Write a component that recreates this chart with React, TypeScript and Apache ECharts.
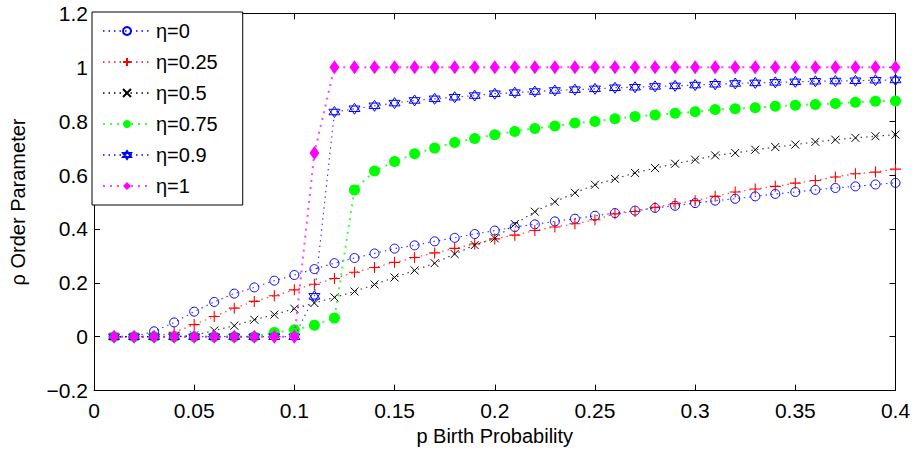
import React, { useEffect, useRef } from "react";
import * as echarts from "echarts";

const pValues = [
  0.01, 0.02, 0.03, 0.04, 0.05, 0.06, 0.07, 0.08, 0.09, 0.1,
  0.11, 0.12, 0.13, 0.14, 0.15, 0.16, 0.17, 0.18, 0.19, 0.2,
  0.21, 0.22, 0.23, 0.24, 0.25, 0.26, 0.27, 0.28, 0.29, 0.3,
  0.31, 0.32, 0.33, 0.34, 0.35, 0.36, 0.37, 0.38, 0.39, 0.4,
];

const eta0 = [
  0, 0, 0.02, 0.053, 0.093, 0.129, 0.16, 0.183, 0.208, 0.229,
  0.251, 0.273, 0.292, 0.309, 0.327, 0.339, 0.354, 0.367, 0.381, 0.394,
  0.407, 0.417, 0.428, 0.438, 0.449, 0.459, 0.468, 0.478, 0.486, 0.496,
  0.505, 0.512, 0.521, 0.53, 0.537, 0.545, 0.552, 0.558, 0.565, 0.571,
];

const eta025 = [
  0, 0, 0, 0.016, 0.045, 0.075, 0.106, 0.131, 0.152, 0.174,
  0.195, 0.216, 0.239, 0.257, 0.276, 0.294, 0.311, 0.328, 0.344, 0.363,
  0.377, 0.394, 0.407, 0.419, 0.434, 0.456, 0.465, 0.48, 0.494, 0.505,
  0.521, 0.537, 0.548, 0.558, 0.57, 0.58, 0.593, 0.605, 0.611, 0.622,
];

const eta05 = [
  0, 0, 0, 0, 0.005, 0.023, 0.041, 0.063, 0.082, 0.104,
  0.125, 0.146, 0.168, 0.194, 0.22, 0.246, 0.273, 0.307, 0.34, 0.365,
  0.418, 0.464, 0.501, 0.534, 0.564, 0.586, 0.608, 0.626, 0.642, 0.657,
  0.673, 0.682, 0.694, 0.704, 0.713, 0.723, 0.731, 0.738, 0.744, 0.75,
];

const eta075 = [
  0, 0, 0, 0, 0, 0, 0, 0, 0.016, 0.026,
  0.043, 0.069, 0.545, 0.615, 0.65, 0.679, 0.7, 0.721, 0.736, 0.75,
  0.762, 0.773, 0.782, 0.793, 0.799, 0.809, 0.817, 0.823, 0.829, 0.835,
  0.843, 0.846, 0.85, 0.855, 0.859, 0.862, 0.866, 0.87, 0.874, 0.875,
];

const eta09 = [
  0, 0, 0, 0, 0, 0, 0, 0, 0, 0,
  0.15, 0.834, 0.846, 0.857, 0.867, 0.877, 0.883, 0.889, 0.895, 0.902,
  0.906, 0.91, 0.914, 0.917, 0.92, 0.924, 0.926, 0.929, 0.931, 0.934,
  0.937, 0.94, 0.942, 0.944, 0.946, 0.948, 0.949, 0.95, 0.952, 0.953,
];

const eta1 = [
  0, 0, 0, 0, 0, 0, 0, 0, 0, 0,
  0.682, 1, 1, 1, 1, 1, 1, 1, 1, 1,
  1, 1, 1, 1, 1, 1, 1, 1, 1, 1,
  1, 1, 1, 1, 1, 1, 1, 1, 1, 1,
];

const seriesNames = ["η=0", "η=0.25", "η=0.5", "η=0.75", "η=0.9", "η=1"];
const seriesValues = [eta0, eta025, eta05, eta075, eta09, eta1];

const FONT = "'Liberation Sans', Arial, Helvetica, sans-serif";

const PLUS = "path://M0,5 L10,5 M5,0 L5,10";
const CROSS = "path://M0,0 L10,10 M10,0 L0,10";
const HEXAGRAM =
  "path://M5,0 L9.33,7.5 L0.67,7.5 Z M5,10 L9.33,2.5 L0.67,2.5 Z";

const styles = [
  { color: "#0000ff", symbol: "circle", size: 9, fill: "rgba(0,0,0,0)", bw: 1, lw: 1.2, dash: [1.5, 4] },
  { color: "#ff0000", symbol: PLUS, size: 11, fill: "rgba(0,0,0,0)", bw: 1.1, lw: 1.2, dash: [1.5, 4] },
  { color: "#000000", symbol: CROSS, size: 8, fill: "rgba(0,0,0,0)", bw: 1, lw: 1.2, dash: [1.5, 4] },
  { color: "#00ff00", symbol: "circle", size: 11, fill: "#00ff00", bw: 0, lw: 2, dash: [2, 5] },
  { color: "#0000ff", symbol: HEXAGRAM, size: 11, fill: "rgba(0,0,0,0)", bw: 1, lw: 1.2, dash: [1.5, 4] },
  { color: "#ff00ff", symbol: "diamond", size: [10, 14], fill: "#ff00ff", bw: 0, lw: 2, dash: [2, 5] },
];

const fmt = (v: number) => {
  const s = String(+v.toFixed(2));
  return s.replace("-", "\u2212");
};

export default function App() {
  const ref = useRef<HTMLDivElement>(null);

  useEffect(() => {
    if (!ref.current) return;
    const chart = echarts.init(ref.current, null, { renderer: "svg" });

    const axisCommon = {
      axisLine: { show: true, onZero: false, lineStyle: { color: "#000", width: 1 } },
      axisTick: { show: true, inside: true, length: 6, lineStyle: { color: "#000", width: 1 } },
      splitLine: { show: false },
    };

    const series = seriesNames.map((name, i) => {
      const st = styles[i];
      return {
        name,
        type: "line",
        xAxisIndex: 0,
        yAxisIndex: 0,
        data: pValues.map((p, j) => [p, seriesValues[i][j]]),
        symbol: st.symbol,
        symbolSize: st.size,
        showSymbol: true,
        showAllSymbol: true,
        itemStyle: { color: st.fill, borderColor: st.color, borderWidth: st.bw },
        lineStyle: { color: st.color, width: st.lw, type: st.dash, opacity: 0.75 },
        emphasis: { disabled: true },
        z: 2 + i,
      };
    });

    const option = {
      animation: false,
      backgroundColor: "#fff",
      textStyle: { fontFamily: FONT },
      grid: { left: 92.5, right: 19.5, top: 13.4, bottom: 64.4, containLabel: false },
      legend: {
        orient: "vertical",
        left: 92,
        top: 12,
        data: seriesNames,
        padding: [9, 25, 9, 10],
        itemGap: 11,
        itemWidth: 48,
        itemHeight: 10,
        borderColor: "#000",
        borderWidth: 1,
        borderRadius: 0,
        backgroundColor: "#fff",
        textStyle: { fontSize: 20, lineHeight: 20, color: "#000", fontFamily: FONT },
        selectedMode: false,
        z: 20,
      },
      xAxis: [
        {
          type: "value",
          min: 0,
          max: 0.4,
          interval: 0.05,
          position: "bottom",
          name: "p Birth Probability",
          nameLocation: "middle",
          nameGap: 34,
          nameTextStyle: { fontSize: 20, color: "#000", fontFamily: FONT },
          axisLabel: { fontSize: 21, color: "#000", margin: 9, formatter: fmt, fontFamily: FONT },
          ...axisCommon,
        },
        {
          type: "value",
          min: 0,
          max: 0.4,
          interval: 0.05,
          position: "top",
          axisLabel: { show: false },
          ...axisCommon,
        },
      ],
      yAxis: [
        {
          type: "value",
          min: -0.2,
          max: 1.2,
          interval: 0.2,
          position: "left",
          name: "ρ Order Parameter",
          nameLocation: "middle",
          nameGap: 66,
          nameRotate: 90,
          nameTextStyle: { fontSize: 20, color: "#000", fontFamily: FONT },
          axisLabel: { fontSize: 21, color: "#000", margin: 6, formatter: fmt, fontFamily: FONT },
          ...axisCommon,
        },
        {
          type: "value",
          min: -0.2,
          max: 1.2,
          interval: 0.2,
          position: "right",
          axisLabel: { show: false },
          ...axisCommon,
        },
      ],
      series,
    };

    chart.setOption(option as any);
    return () => chart.dispose();
  }, []);

  return (
    <div
      ref={ref}
      style={{ position: "fixed", left: 0, top: 0, width: 915, height: 455, background: "#fff" }}
    />
  );
}
